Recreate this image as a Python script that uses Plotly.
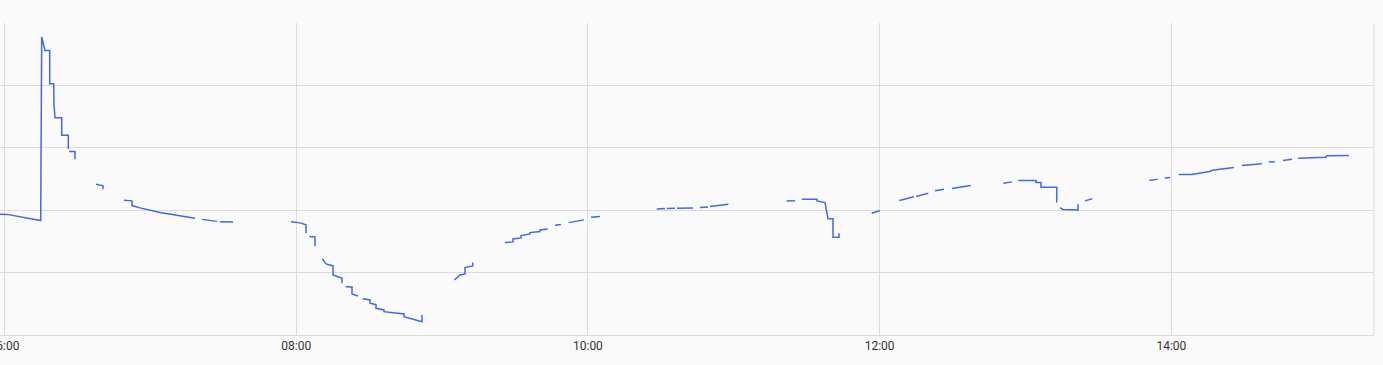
import pandas as pd
import plotly.graph_objects as go

# minutes after 06:00 (None = gap in the series)
minutes = [
    -2, 1.03, 14.89, 15.30, 16.66, 18.59, 18.59, 20.24, 20.36, 20.77, 23.53, 23.53, 26.25, 26.25, None,
    26.53, 29.00, 29.00, None,
    37.64, 40.52, 40.52, None,
    49.16, 52.45, 52.45, 55.74, 63.97, 74.66, 78.37, None,
    81.25, 85.0, 87.4, None,
    88.66, 94.00, None,
    117.86, 121.56, 124.03, 124.03, None,
    125.39, 127.73, 127.73, None,
    130.74, 132.26, 135.14, 135.14, 138.84, 138.84, None,
    140.36, 142.96, 142.96, 145.42, None,
    147.36, 150.36, 150.36, 152.83, 152.83, 156.12, 156.12, 164.35, 164.35, 171.75, 171.75, None,
    185.04, 187.38, 189.44, 189.44, 192.61, 192.61, None,
    205.89, 209.18, 209.18, 212.48, 212.48, 216.18, 216.18, 220.29, 220.29, 223.46, None,
    226.46, 228.93, None,
    232.22, 238.39, None,
    241.27, 244.98, None,
    268.30, 271.7, None,
    272.5, 275.8, None,
    276.6, 283.2, None,
    286.1, 289.4, None,
    290.2, 297.76, None,
    321.78, 325.19, None,
    328.07, 334.24, 334.24, 337.53, 338.77, 340.82, 340.82, 343.29, 343.29, None,
    356.73, 359.73, 359.73, None,
    368.09, 372.49, 374.13, None,
    374.96, 380.02, None,
    382.78, 386.48, None,
    389.77, 397.47, None,
    410.88, 414.46, None,
    417.05, 424.33, 424.33, 426.39, 426.39, 432.85, 432.85, None,
    434.21, 435.44, 441.61, 441.61, None,
    444.49, 447.37, None,
    470.95, 474.41, None,
    477.29, 479.47, None,
    483.05, 488.52, 495.80, 496.8, 505.73, None,
    509.02, 517.25, None,
    520.13, 522.6, None,
    525.89, 529.60, None,
    532.18, 543.58, 544.0, 553.05,
]
values = [
    1.936, 1.933, 1.834, 4.775, 4.560, 4.560, 4.026, 4.026, 3.69, 3.481, 3.481, 3.203, 3.203, 2.979, None,
    2.940, 2.940, 2.818, None,
    2.417, 2.390, 2.337, None,
    2.161, 2.150, 2.074, 2.037, 1.962, 1.893, 1.872, None,
    1.853, 1.84, 1.821, None,
    1.813, 1.810, None,
    1.813, 1.797, 1.765, 1.631, None,
    1.577, 1.572, 1.428, None,
    1.224, 1.139, 1.107, 0.962, 0.910, 0.829, None,
    0.775, 0.770, 0.658, 0.626, None,
    0.582, 0.561, 0.509, 0.486, 0.428, 0.401, 0.374, 0.337, 0.294, 0.213, 0.321, None,
    0.882, 0.962, 0.978, 1.080, 1.107, 1.160, None,
    1.481, 1.492, 1.540, 1.556, 1.593, 1.620, 1.641, 1.657, 1.684, 1.700, None,
    1.760, 1.769, None,
    1.801, 1.845, None,
    1.888, 1.898, None,
    2.021, 2.026, None,
    2.029, 2.032, None,
    2.032, 2.037, None,
    2.045, 2.053, None,
    2.061, 2.097, None,
    2.149, 2.149, None,
    2.177, 2.177, 2.149, 2.122, 1.861, 1.861, 1.567, 1.567, 1.631, None,
    1.952, 1.989, 2.005, None,
    2.154, 2.198, 2.214, None,
    2.219, 2.273, None,
    2.310, 2.337, None,
    2.347, 2.395, None,
    2.433, 2.454, None,
    2.475, 2.475, 2.443, 2.443, 2.369, 2.369, 2.122, None,
    2.042, 2.013, 2.005, 2.097, None,
    2.149, 2.182, None,
    2.475, 2.498, None,
    2.518, 2.523, None,
    2.571, 2.571, 2.620, 2.639, 2.684, None,
    2.716, 2.743, None,
    2.775, 2.775, None,
    2.796, 2.818, None,
    2.834, 2.850, 2.871, 2.876,
]

base = pd.Timestamp("2024-01-01 06:00:00")
x = [None if m is None else base + pd.Timedelta(minutes=m) for m in minutes]

range_start_min = -1.85
range_end_min = 563.37

fig = go.Figure()
fig.add_trace(go.Scatter(
    x=x, y=values, mode="lines",
    line=dict(color="#4169E1", width=1.5),
    connectgaps=False, showlegend=False, hoverinfo="skip",
))

fig.update_layout(
    width=1383, height=365,
    margin=dict(l=0, r=9, t=23, b=30),
    paper_bgcolor="#fafafa", plot_bgcolor="#fafafa",
    font=dict(family="Roboto", size=12, color="#333333"),
    xaxis=dict(
        range=[base + pd.Timedelta(minutes=range_start_min), base + pd.Timedelta(minutes=range_end_min)],
        dtick=2 * 3600 * 1000, tick0=base, tickformat="%H:%M",
        showgrid=True, gridcolor="#dcdcdc", gridwidth=1,
        showline=True, linecolor="#dcdcdc", linewidth=1,
        zeroline=False, ticklabeloverflow="allow", ticks="",
        automargin=False,
    ),
    yaxis=dict(
        range=[0, 5], dtick=1, showticklabels=False, automargin=False,
        showgrid=True, gridcolor="#dcdcdc", gridwidth=1, zeroline=False,
    ),
    shapes=[dict(type="line", xref="paper", yref="paper", x0=1, x1=1, y0=0, y1=1,
                 line=dict(color="#dcdcdc", width=1))],
)

fig.write_html("out.html")
